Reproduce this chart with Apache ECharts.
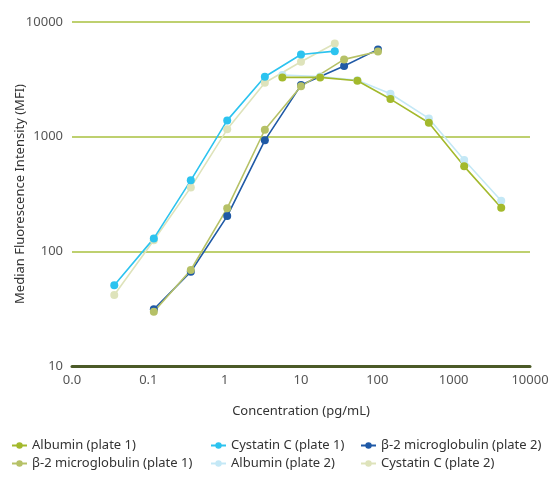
<!DOCTYPE html>
<html>
<head>
<meta charset="utf-8">
<script src="https://cdn.jsdelivr.net/npm/echarts@6/dist/echarts.min.js"></script>
<style>html,body{margin:0;padding:0;background:#fff}#c{width:551px;height:478px}</style>
</head>
<body>
<div id="c"></div>
<script>
// Concentrations (pg/mL)
var albuminX = [5.7, 17.8, 54.8, 148.6, 473, 1373, 4197];
var cystatinX = [0.0358, 0.118, 0.36, 1.08, 3.36, 10.0, 27.7];
var b2mX = [0.118, 0.36, 1.08, 3.36, 10.0, 36.7, 102];

// MFI values
var albuminP1 = [3289, 3289, 3070, 2128, 1321, 551, 240];
var albuminP2 = [3450, 3350, 3100, 2367, 1443, 625, 276];
var cystatinP1 = [50.6, 129.7, 416, 1387, 3327, 5210, 5570];
var cystatinP2 = [41.6, 125, 361, 1159, 2951, 4500, 6500];
var b2mP1 = [29.7, 68.7, 238, 1149, 2748, 4721, 5520];
var b2mP2 = [31.2, 66.4, 203, 929, 2818, 4130, 5770];

var seriesNames = ['Albumin (plate 1)', 'β-2 microglobulin (plate 1)', 'Cystatin C (plate 1)', 'Albumin (plate 2)', 'β-2 microglobulin (plate 2)', 'Cystatin C (plate 2)'];
var xTickLabels = {0.01: '0.0', 0.1: '0.1', 1: '1', 10: '10', 100: '100', 1000: '1000', 10000: '10000'};

function pairs(xs, ys) { return xs.map(function (x, i) { return [x, ys[i]]; }); }

var FONT = 'Noto Sans';
var colors = {
  'Albumin (plate 1)': '#a3b92c',
  'β-2 microglobulin (plate 1)': '#b6c167',
  'Cystatin C (plate 1)': '#2cc3ef',
  'Albumin (plate 2)': '#c4e8f6',
  'β-2 microglobulin (plate 2)': '#1f59a6',
  'Cystatin C (plate 2)': '#dee3bb'
};
var dataMap = {
  'Albumin (plate 1)': pairs(albuminX, albuminP1),
  'β-2 microglobulin (plate 1)': pairs(b2mX, b2mP1),
  'Cystatin C (plate 1)': pairs(cystatinX, cystatinP1),
  'Albumin (plate 2)': pairs(albuminX, albuminP2),
  'β-2 microglobulin (plate 2)': pairs(b2mX, b2mP2),
  'Cystatin C (plate 2)': pairs(cystatinX, cystatinP2)
};
var drawOrder = ['Cystatin C (plate 2)', 'Albumin (plate 2)', 'β-2 microglobulin (plate 2)', 'β-2 microglobulin (plate 1)', 'Cystatin C (plate 1)', 'Albumin (plate 1)'];

var series = drawOrder.map(function (n) {
  return {
    name: n, type: 'line', data: dataMap[n],
    symbol: 'circle', symbolSize: 8,
    itemStyle: {color: colors[n]},
    lineStyle: {color: colors[n], width: 1.6},
    animation: false
  };
});

function legend(left, names) {
  return {
    left: left, top: 434, orient: 'vertical', itemGap: 5,
    itemWidth: 15, itemHeight: 8, data: names,
    textStyle: {fontFamily: FONT, fontSize: 13, color: '#333'},
    selectedMode: false
  };
}

var chart = echarts.init(document.getElementById('c'), null, {renderer: 'canvas'});
chart.setOption({
  backgroundColor: '#fff',
  animation: false,
  grid: {left: 72, right: 21, top: 22, bottom: 112, containLabel: false, outerBoundsMode: 'none'},
  legend: [
    legend(6, ['Albumin (plate 1)', 'β-2 microglobulin (plate 1)']),
    legend(205, ['Cystatin C (plate 1)', 'Albumin (plate 2)']),
    legend(355, ['β-2 microglobulin (plate 2)', 'Cystatin C (plate 2)'])
  ],
  xAxis: {
    type: 'log', logBase: 10, min: 0.01, max: 10000,
    name: 'Concentration (pg/mL)', nameLocation: 'middle', nameGap: 39, nameMoveOverlap: false,
    nameTextStyle: {fontFamily: FONT, fontSize: 13, color: '#333'},
    axisLine: {show: true, lineStyle: {color: '#4b5a27', width: 3}},
    axisTick: {show: false},
    splitLine: {show: false},
    minorTick: {show: false},
    axisLabel: {
      fontFamily: FONT, fontSize: 13, color: '#555', margin: 8,
      formatter: function (v) {
        var k = Math.round(Math.log10(v));
        var key = Math.pow(10, k);
        return xTickLabels[key] !== undefined ? xTickLabels[key] : '';
      }
    }
  },
  yAxis: {
    type: 'log', logBase: 10, min: 10, max: 10000,
    name: 'Median Fluorescence Intensity (MFI)', nameLocation: 'middle', nameGap: 45, nameMoveOverlap: false,
    nameTextStyle: {fontFamily: FONT, fontSize: 13, color: '#333'},
    axisLine: {show: false},
    axisTick: {show: false},
    splitLine: {show: true, lineStyle: {color: '#a9c13f', width: 1.5}},
    axisLabel: {fontFamily: FONT, fontSize: 13, color: '#555', margin: 9,
      formatter: function (v) { return String(Math.round(v)); }}
  },
  series: series
});
</script>
</body>
</html>
